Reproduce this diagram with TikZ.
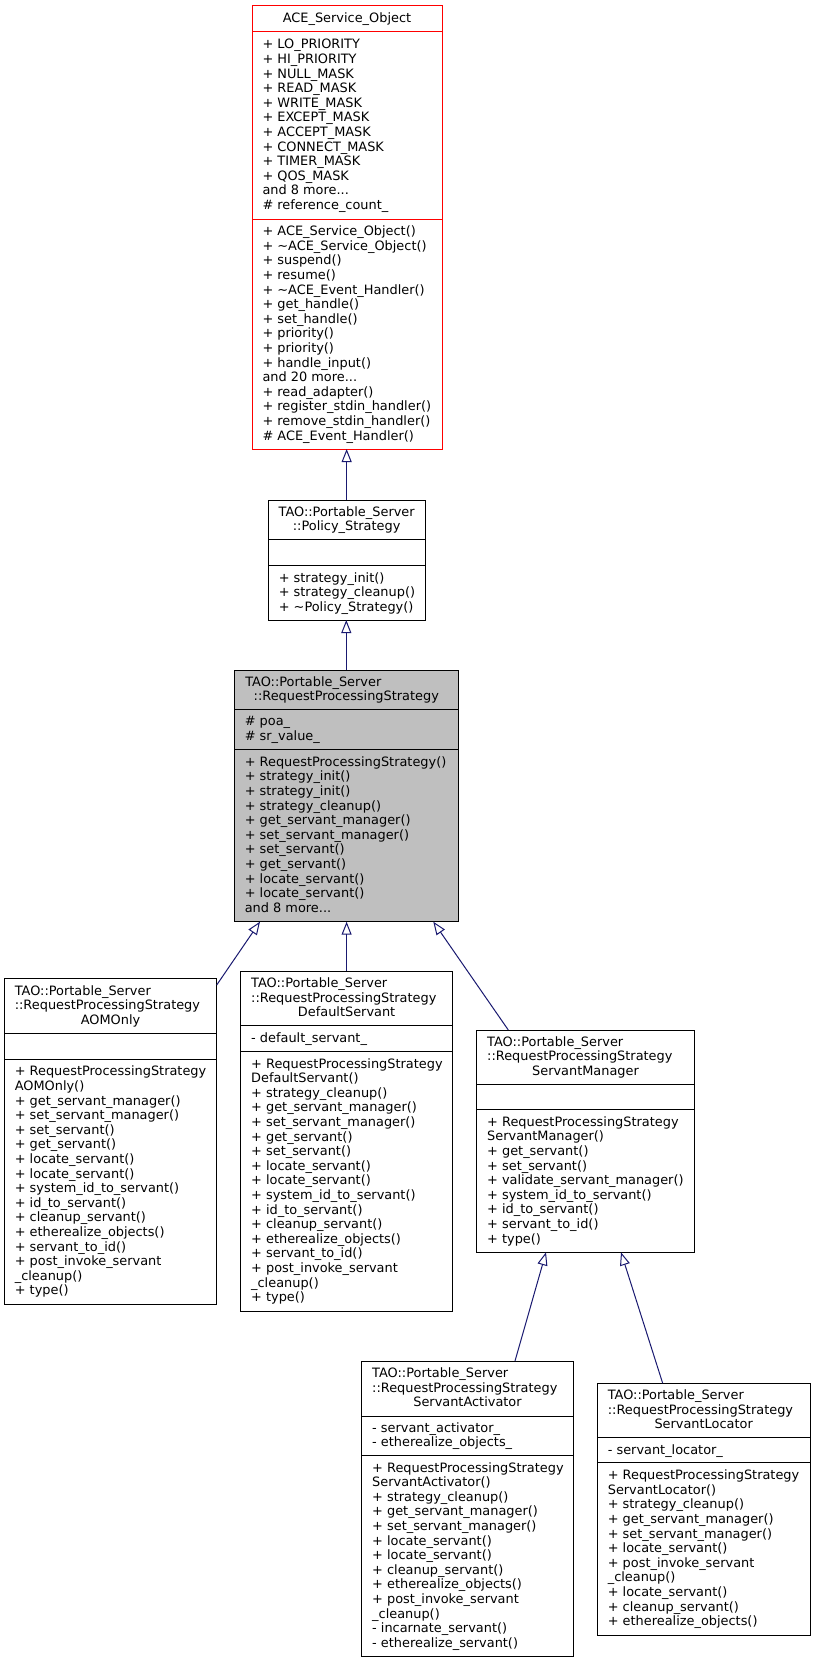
\documentclass[tikz,border=0pt]{standalone}
\usepackage{fontspec}
\setmainfont{DejaVu Sans}
\usetikzlibrary{arrows.meta,calc}
\definecolor{edgeblue}{HTML}{191970}
\definecolor{boxgray}{HTML}{BFBFBF}
\definecolor{aceRed}{HTML}{FF0000}
% name, L, R, T, B, style
\newcommand{\umlbox}[6]{%
  \node[box,#6,minimum width={(#3-#2)*1pt},minimum height={(#5-#4)*1pt}] (#1) at ({(#2+#3)/2},{(#4+#5)/2}) {};}
% box, y, style
\newcommand{\sepl}[3]{\draw[#3] (#1.west |- 0,#2) -- (#1.east |- 0,#2);}
% name, x, a, b, n, lines
\newcommand{\sect}[6]{%
  \node[txt] (#1) at ({#2},{(#3+#4)/2-(#5-1)*7.3+3.8}) {\begin{tabular}[t]{@{}l@{}}#6\end{tabular}};}
\newcommand{\ctitle}[6]{%
  \node[ctxt] (#1) at ({#2},{(#3+#4)/2-(#5-1)*7.3+3.8}) {\begin{tabular}[t]{@{}c@{}}#6\end{tabular}};}
% name, L, R, T, S1, third line
\newcommand{\ktitle}[6]{%
  \node[txt] (#1a) at ({#2+10.5},{(#4+#5)/2-10.8}) {\begin{tabular}[t]{@{}l@{}}TAO::Portable\_Server\\::RequestProcessingStrategy\end{tabular}};
  \node[ctxt] (#1b) at ({(#2+#3)/2},{(#4+#5)/2+18.4}) {#6};}
\begin{document}
\begin{tikzpicture}[x=1pt,y=-1pt,
  box/.style={rectangle,draw=black,line width=1pt,fill=white,inner sep=0pt,outer sep=0pt},
  acebox/.style={draw=aceRed},
  rpsbox/.style={fill=boxgray},
  sepblack/.style={draw=black,line width=1pt},
  sepred/.style={draw=aceRed,line width=1pt},
  txt/.style={anchor=base west,inner sep=0pt,outer sep=0pt,font=\fontsize{12.9}{14.6}\selectfont},
  ctxt/.style={txt,anchor=base},
  inh/.style={draw=edgeblue,line width=1pt,-{Triangle[open,length=13pt,width=10pt]}}]
\path[fill=white,use as bounding box] (0,0) rectangle (816,1664);

% ACE_Service_Object
\umlbox{ace}{252}{442}{6}{449}{acebox}
\sepl{ace}{32}{sepred}
\sepl{ace}{219}{sepred}
\ctitle{acet}{347}{6}{32}{1}{ACE\_Service\_Object}
\sect{acea}{262.5}{32}{219}{12}{+ LO\_PRIORITY\\+ HI\_PRIORITY\\+ NULL\_MASK\\+ READ\_MASK\\+ WRITE\_MASK\\+ EXCEPT\_MASK\\+ ACCEPT\_MASK\\+ CONNECT\_MASK\\+ TIMER\_MASK\\+ QOS\_MASK\\and 8 more...\\\# reference\_count\_}
\sect{acem}{262.5}{219}{449}{15}{+ ACE\_Service\_Object()\\+ \textasciitilde ACE\_Service\_Object()\\+ suspend()\\+ resume()\\+ \textasciitilde ACE\_Event\_Handler()\\+ get\_handle()\\+ set\_handle()\\+ priority()\\+ priority()\\+ handle\_input()\\and 20 more...\\+ read\_adapter()\\+ register\_stdin\_handler()\\+ remove\_stdin\_handler()\\\# ACE\_Event\_Handler()}

% Policy_Strategy
\umlbox{policy}{268.3}{425}{500}{620}{}
\sepl{policy}{539.3}{sepblack}
\sepl{policy}{565.7}{sepblack}
\ctitle{policyt}{346.65}{500}{539.3}{2}{TAO::Portable\_Server\\::Policy\_Strategy}
\sect{policym}{278.8}{565.7}{620}{3}{+ strategy\_init()\\+ strategy\_cleanup()\\+ \textasciitilde Policy\_Strategy()}

% RequestProcessingStrategy
\umlbox{rps}{234.3}{458.3}{670}{921.7}{rpsbox}
\sepl{rps}{709.5}{sepblack}
\sepl{rps}{749.3}{sepblack}
\node[txt] (rpsta) at (245.3,686.2) {TAO::Portable\_Server};
\node[ctxt] (rpstb) at (346.3,700.8) {::RequestProcessingStrategy};
\sect{rpsa}{244.8}{709.5}{749.3}{2}{\# poa\_\\\# sr\_value\_}
\sect{rpsm}{244.8}{749.3}{921.7}{11}{+ RequestProcessingStrategy()\\+ strategy\_init()\\+ strategy\_init()\\+ strategy\_cleanup()\\+ get\_servant\_manager()\\+ set\_servant\_manager()\\+ set\_servant()\\+ get\_servant()\\+ locate\_servant()\\+ locate\_servant()\\and 8 more...}

% AOMOnly
\umlbox{aom}{4.3}{216.7}{978.3}{1304}{}
\sepl{aom}{1033.3}{sepblack}
\sepl{aom}{1059}{sepblack}
\ktitle{aomt}{4.3}{216.7}{978.3}{1033.3}{AOMOnly}
\sect{aomm}{14.8}{1059}{1304}{16}{+ RequestProcessingStrategy\\AOMOnly()\\+ get\_servant\_manager()\\+ set\_servant\_manager()\\+ set\_servant()\\+ get\_servant()\\+ locate\_servant()\\+ locate\_servant()\\+ system\_id\_to\_servant()\\+ id\_to\_servant()\\+ cleanup\_servant()\\+ etherealize\_objects()\\+ servant\_to\_id()\\+ post\_invoke\_servant\\\_cleanup()\\+ type()}

% DefaultServant
\umlbox{def}{240.7}{452.5}{971}{1311}{}
\sepl{def}{1025.7}{sepblack}
\sepl{def}{1051}{sepblack}
\ktitle{deft}{240.7}{452.5}{971}{1025.7}{DefaultServant}
\sect{defa}{251.2}{1025.7}{1051}{1}{- default\_servant\_}
\sect{defm}{251.2}{1051}{1311}{17}{+ RequestProcessingStrategy\\DefaultServant()\\+ strategy\_cleanup()\\+ get\_servant\_manager()\\+ set\_servant\_manager()\\+ get\_servant()\\+ set\_servant()\\+ locate\_servant()\\+ locate\_servant()\\+ system\_id\_to\_servant()\\+ id\_to\_servant()\\+ cleanup\_servant()\\+ etherealize\_objects()\\+ servant\_to\_id()\\+ post\_invoke\_servant\\\_cleanup()\\+ type()}

% ServantManager
\umlbox{sm}{476.7}{694.3}{1030}{1252.3}{}
\sepl{sm}{1084.3}{sepblack}
\sepl{sm}{1109.3}{sepblack}
\ktitle{smt}{476.7}{694.3}{1030}{1084.3}{ServantManager}
\sect{smm}{487.2}{1109.3}{1252.3}{9}{+ RequestProcessingStrategy\\ServantManager()\\+ get\_servant()\\+ set\_servant()\\+ validate\_servant\_manager()\\+ system\_id\_to\_servant()\\+ id\_to\_servant()\\+ servant\_to\_id()\\+ type()}

% ServantActivator
\umlbox{sa}{361.7}{573.3}{1361}{1656.7}{}
\sepl{sa}{1416}{sepblack}
\sepl{sa}{1455}{sepblack}
\ktitle{sat}{361.7}{573.3}{1361}{1416}{ServantActivator}
\sect{saa}{372.2}{1416}{1455}{2}{- servant\_activator\_\\- etherealize\_objects\_}
\sect{sam}{372.2}{1455}{1656.7}{13}{+ RequestProcessingStrategy\\ServantActivator()\\+ strategy\_cleanup()\\+ get\_servant\_manager()\\+ set\_servant\_manager()\\+ locate\_servant()\\+ locate\_servant()\\+ cleanup\_servant()\\+ etherealize\_objects()\\+ post\_invoke\_servant\\\_cleanup()\\- incarnate\_servant()\\- etherealize\_servant()}

% ServantLocator
\umlbox{sl}{597.3}{810}{1383.3}{1635}{}
\sepl{sl}{1437.7}{sepblack}
\sepl{sl}{1462.7}{sepblack}
\ktitle{slt}{597.3}{810}{1383.3}{1437.7}{ServantLocator}
\sect{sla}{607.8}{1437.7}{1462.7}{1}{- servant\_locator\_}
\sect{slm}{607.8}{1462.7}{1635}{11}{+ RequestProcessingStrategy\\ServantLocator()\\+ strategy\_cleanup()\\+ get\_servant\_manager()\\+ set\_servant\_manager()\\+ locate\_servant()\\+ post\_invoke\_servant\\\_cleanup()\\+ locate\_servant()\\+ cleanup\_servant()\\+ etherealize\_objects()}

% inheritance edges
\draw[inh] (policy.north) -- (policy.north |- ace.south);
\draw[inh] (rps.north) -- (rps.north |- policy.south);
\draw[inh] ($(aom.north east)+(0,6.7)$) -- ($(rps.south west)+(25.7,0)$);
\draw[inh] (def.north) -- (def.north |- rps.south);
\draw[inh] ($(sm.north west)+(31.6,0)$) -- ($(rps.south east)+(-25,0)$);
\draw[inh] ($(sa.north west)+(153.3,0)$) -- ($(sm.south west)+(69.3,0)$);
\draw[inh] ($(sl.north west)+(65.4,0)$) -- ($(sm.south west)+(144.3,0)$);
\end{tikzpicture}
\end{document}
